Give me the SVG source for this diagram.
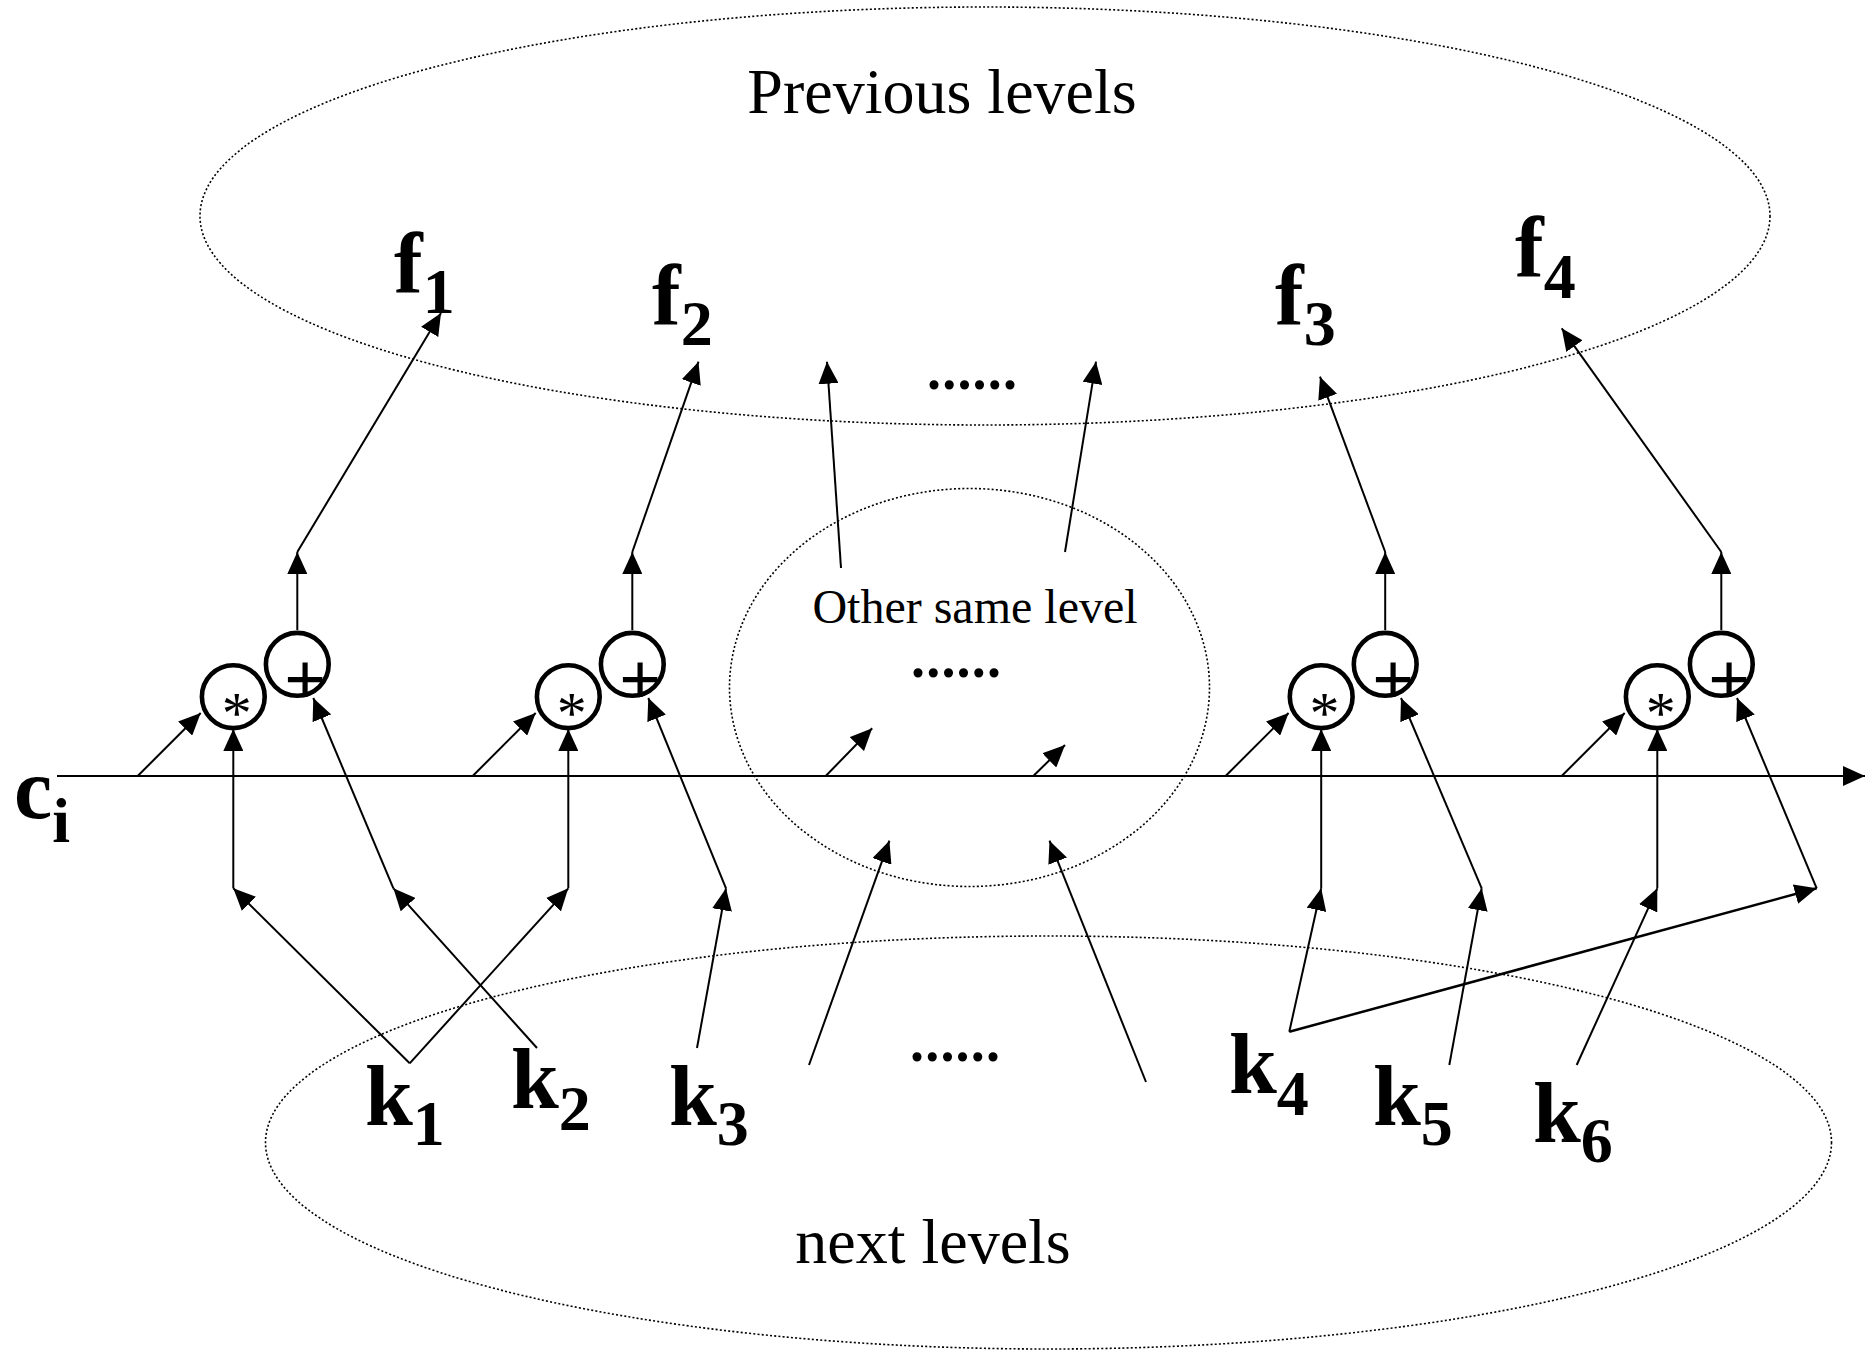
<svg xmlns="http://www.w3.org/2000/svg" width="1870" height="1351" viewBox="0 0 1870 1351">
  <style>
    .region { fill: none; stroke: #000; stroke-width: 1.6; stroke-dasharray: 2 2.2; }
    .op { fill: #fff; stroke: #000; stroke-width: 4.6; }
    .opsym { font-family: "Liberation Serif", "Times New Roman", serif; fill: #000; text-anchor: middle; }
    .plus { font-size: 74px; font-weight: bold; }
    .star { font-size: 60px; }
    .var { font-family: "Liberation Serif", "Times New Roman", serif; font-weight: bold; font-size: 86px; fill: #000; }
    .sub { font-size: 64px; }
    .title { font-family: "Liberation Serif", "Times New Roman", serif; font-size: 64px; fill: #000; text-anchor: middle; }
    .dots { font-family: "Liberation Serif", "Times New Roman", serif; font-weight: bold; font-size: 56px; fill: #000; }
    .wire-a { fill: none; stroke: #000; stroke-width: 2; marker-end: url(#ah); }
  </style>
  <defs>
    <marker id="ah" markerUnits="userSpaceOnUse" viewBox="0 0 22 20" markerWidth="22" markerHeight="20" refX="22" refY="10" orient="auto">
      <path d="M0,0 L22,10 L0,20 z" fill="#000"/>
    </marker>
  </defs>

  <rect width="1870" height="1351" fill="#fff"/>

  <!-- dotted regions -->
  <g id="previous-levels">
    <ellipse class="region" cx="985" cy="216" rx="785" ry="209"/>
    <text class="title" x="942" y="113">Previous levels</text>
  </g>
  <g id="same-level">
    <ellipse class="region" cx="969.5" cy="687.5" rx="240" ry="199"/>
    <text class="title" x="975" y="623" style="font-size:48px">Other same level</text>
    <text class="dots" x="911" y="677" textLength="90" lengthAdjust="spacing">......</text>
  </g>
  <g id="next-levels">
    <ellipse class="region" cx="1048.5" cy="1142.5" rx="783" ry="206.5"/>
    <text class="title" x="933" y="1263">next levels</text>
  </g>

  <!-- connectors -->
  <g id="connectors">
    <!-- c_i bus -->
    <line class="wire-a" x1="57" y1="776" x2="1865" y2="776"/>

    <!-- bus taps into the multipliers -->
    <line class="wire-a" x1="137.7" y1="776" x2="200.7" y2="713"/>
    <line class="wire-a" x1="472.7" y1="776" x2="535.7" y2="713"/>
    <line class="wire-a" x1="1225.6" y1="776" x2="1288.6" y2="713"/>
    <line class="wire-a" x1="1561.7" y1="776" x2="1624.7" y2="713"/>
    <!-- bus taps into the same-level region -->
    <line class="wire-a" x1="825.7" y1="776" x2="872.2" y2="728.3"/>
    <line class="wire-a" x1="1033.3" y1="776" x2="1065" y2="745"/>

    <!-- adder outputs up to f -->
    <line class="wire-a" x1="297.3" y1="630" x2="297.3" y2="552"/>
    <line class="wire-a" x1="297.3" y1="552" x2="441" y2="313"/>
    <line class="wire-a" x1="632.3" y1="630" x2="632.3" y2="552"/>
    <line class="wire-a" x1="632.3" y1="552" x2="698.5" y2="361.7"/>
    <line class="wire-a" x1="1385.2" y1="630" x2="1385.2" y2="552"/>
    <line class="wire-a" x1="1385.2" y1="552" x2="1320" y2="376.7"/>
    <line class="wire-a" x1="1721.3" y1="630" x2="1721.3" y2="552"/>
    <line class="wire-a" x1="1721.3" y1="552" x2="1561.7" y2="328.3"/>

    <!-- same-level region outputs -->
    <line class="wire-a" x1="841" y1="568" x2="827" y2="361.7"/>
    <line class="wire-a" x1="1065" y1="552" x2="1096" y2="361.7"/>

    <!-- next-level inputs into the same-level region -->
    <line class="wire-a" x1="809" y1="1065" x2="889.4" y2="840.7"/>
    <line class="wire-a" x1="1146" y1="1082" x2="1049.5" y2="840.7"/>

    <!-- k1 -->
    <line class="wire-a" x1="409.7" y1="1063.3" x2="233.3" y2="888.3"/>
    <line class="wire-a" x1="409.7" y1="1063.3" x2="568.3" y2="888.3"/>
    <line class="wire-a" x1="233.3" y1="888.3" x2="233.3" y2="729"/>
    <line class="wire-a" x1="568.3" y1="888.3" x2="568.3" y2="729"/>
    <!-- k2 -->
    <line class="wire-a" x1="537" y1="1048" x2="393.4" y2="888.3"/>
    <line class="wire-a" x1="393.4" y1="888.3" x2="313.3" y2="698"/>
    <!-- k3 -->
    <line class="wire-a" x1="697" y1="1048" x2="726" y2="888.3"/>
    <line class="wire-a" x1="726" y1="888.3" x2="648.3" y2="698"/>
    <!-- k4 -->
    <line class="wire-a" x1="1289.3" y1="1031.7" x2="1321.2" y2="888.3"/>
    <line class="wire-a" x1="1321.2" y1="888.3" x2="1321.2" y2="729"/>
    <line class="wire-a" x1="1289.3" y1="1031.7" x2="1816.7" y2="888.3" style="stroke-width:2.5"/>
    <line class="wire-a" x1="1816.7" y1="888.3" x2="1737" y2="698"/>
    <!-- k5 -->
    <line class="wire-a" x1="1449.3" y1="1065" x2="1481.7" y2="888.3"/>
    <line class="wire-a" x1="1481.7" y1="888.3" x2="1401" y2="698"/>
    <!-- k6 -->
    <line class="wire-a" x1="1576.7" y1="1065" x2="1657.3" y2="888.3"/>
    <line class="wire-a" x1="1657.3" y1="888.3" x2="1657.3" y2="729"/>
  </g>

  <!-- multiply / add units -->
  <g id="unit-1">
    <g id="mul-1"><circle class="op" cx="233.3" cy="696.7" r="31.4"/><text class="opsym star" x="236.7" y="733">*</text></g>
    <g id="add-1"><circle class="op" cx="297.3" cy="664.3" r="31.4"/><text class="opsym plus" x="305" y="704">+</text></g>
  </g>
  <g id="unit-2">
    <g id="mul-2"><circle class="op" cx="568.3" cy="696.7" r="31.4"/><text class="opsym star" x="571.7" y="733">*</text></g>
    <g id="add-2"><circle class="op" cx="632.3" cy="664.3" r="31.4"/><text class="opsym plus" x="640" y="704">+</text></g>
  </g>
  <g id="unit-3">
    <g id="mul-3"><circle class="op" cx="1321.2" cy="696.7" r="31.4"/><text class="opsym star" x="1324.6" y="733">*</text></g>
    <g id="add-3"><circle class="op" cx="1385.2" cy="664.3" r="31.4"/><text class="opsym plus" x="1393" y="704">+</text></g>
  </g>
  <g id="unit-4">
    <g id="mul-4"><circle class="op" cx="1657.3" cy="696.7" r="31.4"/><text class="opsym star" x="1660.7" y="733">*</text></g>
    <g id="add-4"><circle class="op" cx="1721.3" cy="664.3" r="31.4"/><text class="opsym plus" x="1729" y="704">+</text></g>
  </g>

  <!-- outputs f -->
  <g id="f1"><text class="var" x="394" y="293">f<tspan class="sub" dy="20">1</tspan></text></g>
  <g id="f2"><text class="var" x="652" y="325">f<tspan class="sub" dy="20">2</tspan></text></g>
  <g id="f3"><text class="var" x="1275" y="325">f<tspan class="sub" dy="20">3</tspan></text></g>
  <g id="f4"><text class="var" x="1515" y="277">f<tspan class="sub" dy="21">4</tspan></text></g>
  <g id="dots-top"><text class="dots" x="927" y="389" textLength="90" lengthAdjust="spacing">......</text></g>

  <!-- input c_i -->
  <g id="ci"><text class="var" x="14" y="818">c<tspan class="sub" dy="24">i</tspan></text></g>

  <!-- inputs k -->
  <g id="k1"><text class="var" x="365" y="1125">k<tspan class="sub" dy="20">1</tspan></text></g>
  <g id="k2"><text class="var" x="511" y="1108">k<tspan class="sub" dy="22">2</tspan></text></g>
  <g id="k3"><text class="var" x="669" y="1125">k<tspan class="sub" dy="20">3</tspan></text></g>
  <g id="k4"><text class="var" x="1229" y="1093">k<tspan class="sub" dy="22">4</tspan></text></g>
  <g id="k5"><text class="var" x="1373" y="1125">k<tspan class="sub" dy="20">5</tspan></text></g>
  <g id="k6"><text class="var" x="1533" y="1142">k<tspan class="sub" dy="20">6</tspan></text></g>
  <g id="dots-bottom"><text class="dots" x="910" y="1061" textLength="90" lengthAdjust="spacing">......</text></g>
</svg>
